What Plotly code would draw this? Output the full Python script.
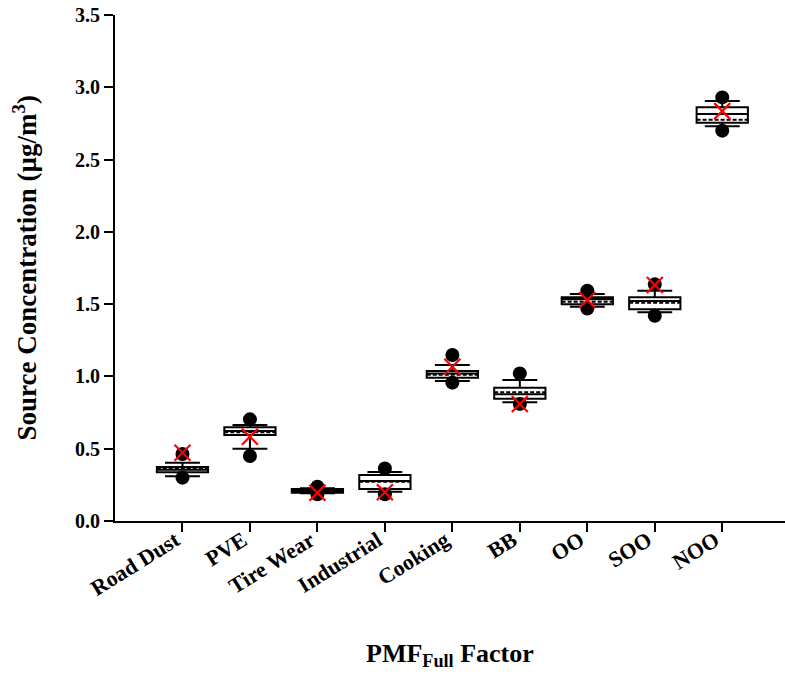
import plotly.graph_objects as go

# PMF factor names (x categories)
factors = ["Road Dust", "PVE", "Tire Wear", "Industrial", "Cooking",
           "BB", "OO", "SOO", "NOO"]

# Box statistics per factor (µg/m3)
p10 = [0.310, 0.500, 0.192, 0.203, 0.968, 0.822, 1.482, 1.444, 2.730]
q1 = [0.337, 0.595, 0.196, 0.221, 0.991, 0.845, 1.499, 1.464, 2.754]
median = [0.355, 0.623, 0.209, 0.277, 1.021, 0.876, 1.533, 1.522, 2.816]
mean = [0.362, 0.614, 0.205, 0.272, 1.012, 0.890, 1.517, 1.510, 2.775]
q3 = [0.373, 0.648, 0.221, 0.318, 1.038, 0.922, 1.547, 1.547, 2.862]
p90 = [0.403, 0.664, 0.226, 0.339, 1.079, 0.975, 1.570, 1.593, 2.905]

# Outlying points below / above the whiskers
low_pts = [0.300, 0.450, 0.185, 0.185, 0.957, 0.810, 1.470, 1.420, 2.700]
high_pts = [0.463, 0.703, 0.237, 0.364, 1.148, 1.021, 1.593, 1.637, 2.930]

# Base-run factor concentration
base_run = [0.472, 0.583, 0.196, 0.199, 1.067, 0.809, 1.529, 1.632, 2.835]

xpos = list(range(len(factors)))
FONT = "Liberation Serif"

fig = go.Figure()

fig.add_trace(go.Box(
    x=xpos, q1=q1, median=median, q3=q3, mean=mean,
    lowerfence=p10, upperfence=p90,
    boxmean=True, width=0.76, whiskerwidth=0.68,
    fillcolor="white",
    line=dict(color="black", width=2),
    boxpoints=False, showlegend=False, hoverinfo="skip",
))

fig.add_trace(go.Scatter(
    x=xpos + xpos, y=low_pts + high_pts, mode="markers",
    marker=dict(symbol="circle", size=14, color="black"),
    showlegend=False, hoverinfo="skip",
))

fig.add_trace(go.Scatter(
    x=xpos, y=base_run, mode="markers",
    marker=dict(symbol="x-thin", size=16,
                line=dict(color="#ff0000", width=2.2)),
    showlegend=False, hoverinfo="skip",
))

fig.update_xaxes(
    range=[-1.0, 8.93], tickmode="array", tickvals=xpos, ticktext=factors,
    tickangle=-32, showline=True, linecolor="black", linewidth=2,
    ticks="outside", ticklen=9, tickwidth=2, tickcolor="black",
    ticklabelstandoff=-13, ticklabelshift=-7,
    showgrid=False, zeroline=False,
    tickfont=dict(family=FONT, size=22, color="black", weight="bold"),
)
fig.update_yaxes(
    range=[0, 3.5], dtick=0.5, tickformat=".1f",
    showline=True, linecolor="black", linewidth=2,
    ticks="outside", ticklen=9, tickwidth=2, tickcolor="black",
    showgrid=False, zeroline=False,
    tickfont=dict(family=FONT, size=20, color="black", weight="bold"),
)

fig.add_annotation(
    text="Source Concentration (µg/m<sup>3</sup>)",
    xref="paper", yref="paper", x=-0.135, y=0.5,
    xanchor="center", yanchor="middle", textangle=-90, showarrow=False,
    font=dict(family=FONT, size=27, color="black", weight="bold"),
)
fig.add_annotation(
    text="PMF<sub>Full</sub> Factor",
    xref="paper", yref="paper", x=0.5, y=-0.265,
    xanchor="center", yanchor="middle", showarrow=False,
    font=dict(family=FONT, size=26, color="black", weight="bold"),
)

fig.update_layout(
    width=785, height=677,
    margin=dict(l=115, r=0, t=15, b=156, autoexpand=False),
    plot_bgcolor="white", paper_bgcolor="white",
)

fig.write_html("out.html")
